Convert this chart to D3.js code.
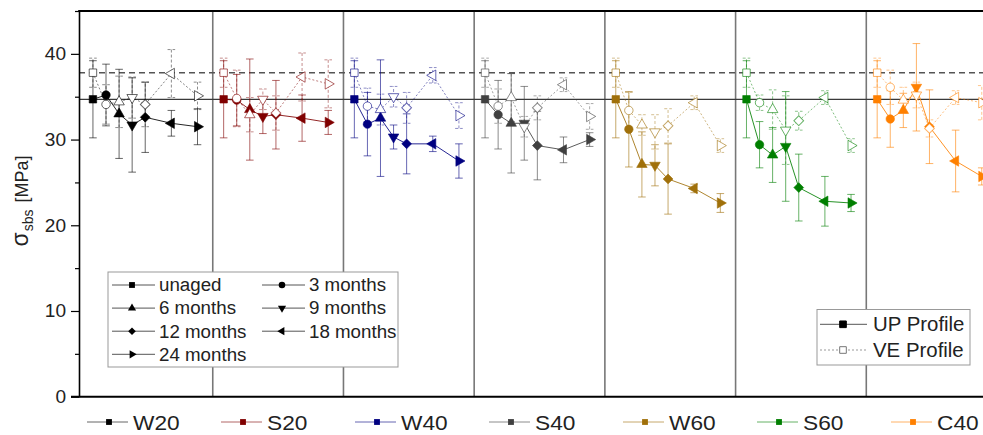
<!DOCTYPE html>
<html>
<head>
<meta charset="utf-8">
<script src="https://cdn.jsdelivr.net/npm/d3@7"></script>
<style>
  body { margin: 0; background: #fff; }
  svg { display: block; font-family: "Liberation Sans", Arial, Helvetica, sans-serif; }
</style>
</head>
<body>
<svg id="chart" width="983" height="435"></svg>
<script>
// ---- data ---------------------------------------------------------------
const materials = ["W20", "S20", "W40", "S40", "W60", "S60", "C40"];
const materialColors = ["#000000", "#800000", "#000080", "#404040", "#a0700a", "#007f00", "#ff8000"];
const agingMonths = [0, 3, 6, 9, 12, 18, 24];
const agingLabels = ["unaged", "3 months", "6 months", "9 months", "12 months", "18 months", "24 months"];
const profileLabels = ["UP Profile", "VE Profile"];
const yTicks = [0, 10, 20, 30, 40];
const yMinorTicks = [5, 15, 25, 35, 45];

// short-beam shear strength, UP profile: mean and standard deviation (MPa)
const upMean = [
  [34.7, 35.2, 33.0, 31.7, 32.6, 31.9, 31.5],
  [34.7, 34.6, 33.5, 32.7, 32.9, 32.5, 32.0],
  [34.7, 31.8, 32.5, 30.3, 29.5, 29.5, 27.5],
  [34.7, 32.9, 31.9, 31.9, 29.3, 28.8, 30.0],
  [34.7, 31.2, 27.1, 27.0, 25.4, 24.3, 22.6],
  [34.7, 29.4, 28.2, 29.2, 24.4, 22.8, 22.6],
  [34.7, 32.4, 33.4, 36.1, 31.5, 27.5, 25.7]
];
const upErr = [
  [4.5, 3.6, 5.2, 5.5, 4.1, 1.5, 2.1],
  [4.5, 3.0, 5.9, 2.0, 4.0, 2.7, 1.4],
  [4.5, 3.7, 6.8, 1.4, 3.5, 0.9, 2.0],
  [4.5, 4.0, 5.8, 4.3, 4.0, 1.5, 0.8],
  [4.5, 4.4, 3.8, 2.4, 4.1, 0.5, 1.1],
  [4.5, 2.7, 3.2, 6.4, 3.9, 2.9, 1.0],
  [4.5, 3.3, 2.0, 5.1, 4.3, 3.6, 1.0]
];

// short-beam shear strength, VE profile: mean and standard deviation (MPa)
const veMean = [
  [37.8, 34.1, 34.4, 34.9, 34.1, 37.7, 35.1],
  [37.8, 34.8, 32.9, 34.7, 33.1, 37.3, 36.5],
  [37.8, 33.9, 33.5, 35.0, 33.7, 37.5, 32.8],
  [37.8, 33.9, 34.9, 31.5, 33.7, 36.4, 32.7],
  [37.8, 33.4, 31.7, 30.9, 31.6, 34.3, 29.3],
  [37.8, 34.3, 33.5, 31.1, 32.2, 34.9, 29.3],
  [37.8, 36.1, 34.6, 35.2, 31.3, 34.9, 34.3]
];
const veErr = [
  [1.7, 2.3, 3.0, 2.4, 2.6, 2.8, 1.6],
  [1.7, 3.3, 2.0, 1.2, 2.0, 2.8, 2.8],
  [1.7, 2.1, 1.8, 1.2, 1.8, 0.9, 1.5],
  [1.7, 2.0, 2.8, 1.2, 1.4, 0.8, 1.5],
  [1.7, 2.1, 1.2, 2.0, 2.0, 0.8, 0.8],
  [1.7, 0.9, 2.3, 4.0, 1.1, 0.8, 0.8],
  [1.7, 2.0, 1.5, 1.5, 1.0, 0.8, 2.0]
];

// ---- layout -------------------------------------------------------------
const svg = d3.select("#chart");
const panelSpan = 30;                       // months reserved for each material
const x = d3.scaleLinear().domain([-3.2, 207.5]).range([79, 997]);
const y = d3.scaleLinear().domain([0, 45]).range([396.7, 11]);
const plotLeft = x.range()[0], plotTop = y.range()[1], plotBottom = y.range()[0];

// widen rendered text slightly to get the wide sans look of the labels
function widen(sel, f) {
  sel.each(function () {
    const w = this.getComputedTextLength();
    this.setAttribute("textLength", w * f);
    this.setAttribute("lengthAdjust", "spacingAndGlyphs");
  });
}

// marker shapes per aging state
const markerDefs = [
  { type: d3.symbolSquare, rot: 0, k: 1.0 },
  { type: d3.symbolCircle, rot: 0, k: 1.0 },
  { type: d3.symbolTriangle, rot: 0, k: 0.85 },
  { type: d3.symbolTriangle, rot: 180, k: 0.85 },
  { type: d3.symbolSquare, rot: 45, k: 0.85 },
  { type: d3.symbolTriangle, rot: -90, k: 0.85 },
  { type: d3.symbolTriangle, rot: 90, k: 0.85 }
];
function markerPath(j, area) {
  const m = markerDefs[j];
  return d3.symbol().type(m.type).size(area * m.k)();
}
function markerTransform(j, cx, cy) {
  return `translate(${cx},${cy}) rotate(${markerDefs[j].rot})`;
}

// ---- panel dividers and reference levels -------------------------------
const dividers = d3.range(1, materials.length).map(k => k * panelSpan - 2.5);
svg.append("g").selectAll("line").data(dividers).join("line")
  .attr("x1", d => x(d)).attr("x2", d => x(d))
  .attr("y1", plotTop).attr("y2", plotBottom)
  .attr("stroke", "#777").attr("stroke-width", 1.6);

svg.append("line")
  .attr("x1", plotLeft).attr("x2", 983)
  .attr("y1", y(upMean[0][0])).attr("y2", y(upMean[0][0]))
  .attr("stroke", "#3a3a3a").attr("stroke-width", 1.2);
svg.append("line")
  .attr("x1", plotLeft).attr("x2", 983)
  .attr("y1", y(veMean[0][0])).attr("y2", y(veMean[0][0]))
  .attr("stroke", "#555").attr("stroke-width", 1.5)
  .attr("stroke-dasharray", "6,4");

// ---- series -------------------------------------------------------------
const capHalf = 3.8;
const dataLayer = svg.append("g");

function drawErrorBars(g, pts, key, errKey, color, opacity, dash) {
  const eg = g.append("g").attr("stroke", color).attr("stroke-opacity", opacity)
    .attr("stroke-width", 1).attr("fill", "none");
  if (dash) eg.attr("stroke-dasharray", dash);
  pts.forEach(p => {
    const y0 = y(p[key] - p[errKey]), y1 = y(p[key] + p[errKey]);
    eg.append("line").attr("x1", p.px).attr("x2", p.px).attr("y1", y0).attr("y2", y1);
    eg.append("line").attr("x1", p.px - capHalf).attr("x2", p.px + capHalf).attr("y1", y0).attr("y2", y0);
    eg.append("line").attr("x1", p.px - capHalf).attr("x2", p.px + capHalf).attr("y1", y1).attr("y2", y1);
  });
}

materials.forEach((mat, i) => {
  const color = materialColors[i];
  const pts = agingMonths.map((mo, j) => ({
    j, px: x(i * panelSpan + mo),
    up: upMean[i][j], upE: upErr[i][j],
    ve: veMean[i][j], veE: veErr[i][j]
  }));
  const g = dataLayer.append("g").attr("class", "material-" + mat);

  // error bars
  drawErrorBars(g, pts, "ve", "veE", color, 0.45, "3,2");
  drawErrorBars(g, pts, "up", "upE", color, 0.6, null);

  // connecting lines
  const upLine = d3.line().x(p => p.px).y(p => y(p.up));
  const veLine = d3.line().x(p => p.px).y(p => y(p.ve));
  g.append("path").attr("d", upLine(pts)).attr("fill", "none")
    .attr("stroke", color).attr("stroke-width", 1).attr("stroke-opacity", 0.85);
  g.append("path").attr("d", veLine(pts)).attr("fill", "none")
    .attr("stroke", color).attr("stroke-width", 1).attr("stroke-opacity", 0.5)
    .attr("stroke-dasharray", "2,2");

  // filled UP markers
  g.append("g").selectAll("path").data(pts).join("path")
    .attr("d", p => markerPath(p.j, 56))
    .attr("transform", p => markerTransform(p.j, p.px, y(p.up)))
    .attr("fill", color).attr("stroke", color).attr("stroke-width", 0.6);

  // open VE markers
  g.append("g").selectAll("path").data(pts).join("path")
    .attr("d", p => markerPath(p.j, 56))
    .attr("transform", p => markerTransform(p.j, p.px, y(p.ve)))
    .attr("fill", "#fff").attr("stroke", color).attr("stroke-opacity", 0.6)
    .attr("stroke-width", 1);
});

// ---- axes ---------------------------------------------------------------
const yAxis = svg.append("g").attr("transform", `translate(${plotLeft},0)`)
  .call(d3.axisLeft(y).tickValues(yTicks).tickSize(8).tickSizeOuter(0).tickPadding(5));
yAxis.select(".domain").attr("stroke", "#000").attr("stroke-width", 1.6);
yAxis.selectAll(".tick line").attr("stroke", "#000").attr("stroke-width", 1.2);
yAxis.selectAll(".tick text").attr("font-size", 18).attr("fill", "#222")
  .attr("font-family", "Liberation Sans, Arial, sans-serif").call(widen, 1.06);

const yMinor = svg.append("g").attr("transform", `translate(${plotLeft},0)`)
  .call(d3.axisLeft(y).tickValues(yMinorTicks).tickSize(4).tickSizeOuter(0).tickFormat(""));
yMinor.select(".domain").remove();
yMinor.selectAll(".tick line").attr("stroke", "#000").attr("stroke-width", 1.2);

// bottom and top frame lines
svg.append("line").attr("x1", plotLeft - 8).attr("x2", 983)
  .attr("y1", plotBottom).attr("y2", plotBottom)
  .attr("stroke", "#000").attr("stroke-width", 2);
svg.append("line").attr("x1", plotLeft - 0.8).attr("x2", 983)
  .attr("y1", plotTop).attr("y2", plotTop)
  .attr("stroke", "#000").attr("stroke-width", 2);

// y-axis title: sigma_sbs [MPa]
const yTitle = svg.append("text")
  .attr("transform", "translate(28,201) rotate(-90)")
  .attr("text-anchor", "middle").attr("font-size", 18).attr("fill", "#222");
yTitle.append("tspan").attr("font-size", 23).text("σ");
yTitle.append("tspan").attr("font-size", 14).attr("dy", 5).attr("dx", 1).text("sbs");
yTitle.append("tspan").attr("dy", -5).attr("dx", 2).text(" [MPa]");

// ---- aging legend -------------------------------------------------------
const ageLegend = svg.append("g");
ageLegend.append("rect").attr("x", 108).attr("y", 272).attr("width", 290).attr("height", 95)
  .attr("fill", "#fff").attr("stroke", "#999").attr("stroke-width", 1);
agingLabels.forEach((lab, j) => {
  const col = j % 2, row = Math.floor(j / 2);
  const lx = col === 0 ? 112 : 262;
  const cy = 285 + row * 23.1;
  ageLegend.append("line").attr("x1", lx).attr("x2", lx + 43).attr("y1", cy).attr("y2", cy)
    .attr("stroke", "#555").attr("stroke-width", 1);
  ageLegend.append("path").attr("d", markerPath(j, 34))
    .attr("transform", markerTransform(j, lx + 20, cy)).attr("fill", "#000");
  ageLegend.append("text").attr("x", lx + 47).attr("y", cy + 6.3)
    .attr("font-size", 18).attr("fill", "#222").text(lab).call(widen, 1.04);
});

// ---- profile legend -----------------------------------------------------
const profLegend = svg.append("g");
profLegend.append("rect").attr("x", 817).attr("y", 309.5).attr("width", 153).attr("height", 55.5)
  .attr("fill", "#fff").attr("stroke", "#999").attr("stroke-width", 1);
profileLabels.forEach((lab, k) => {
  const cy = 324.3 + k * 25.7;
  profLegend.append("line").attr("x1", 820).attr("x2", 867).attr("y1", cy).attr("y2", cy)
    .attr("stroke", k === 0 ? "#555" : "#999").attr("stroke-width", 1)
    .attr("stroke-dasharray", k === 0 ? null : "2,2");
  profLegend.append("path").attr("d", markerPath(0, 44))
    .attr("transform", markerTransform(0, 843, cy))
    .attr("fill", k === 0 ? "#000" : "#fff").attr("stroke", k === 0 ? "#000" : "#777")
    .attr("stroke-width", 1);
  profLegend.append("text").attr("x", 873).attr("y", cy + 7)
    .attr("font-size", 20).attr("fill", "#222").text(lab).call(widen, 1.02);
});

// ---- material legend ----------------------------------------------------
const matLegend = svg.append("g");
materials.forEach((mat, i) => {
  const tx = 133 + i * 134;
  const cy = 422;
  matLegend.append("line").attr("x1", tx - 46).attr("x2", tx - 5).attr("y1", cy).attr("y2", cy)
    .attr("stroke", materialColors[i]).attr("stroke-opacity", 0.6).attr("stroke-width", 1);
  matLegend.append("path").attr("d", markerPath(0, 34))
    .attr("transform", markerTransform(0, tx - 24, cy)).attr("fill", materialColors[i]);
  matLegend.append("text").attr("x", tx).attr("y", cy + 7.8)
    .attr("font-size", 21).attr("fill", "#222").text(mat).call(widen, 1.08);
});
</script>
</body>
</html>
